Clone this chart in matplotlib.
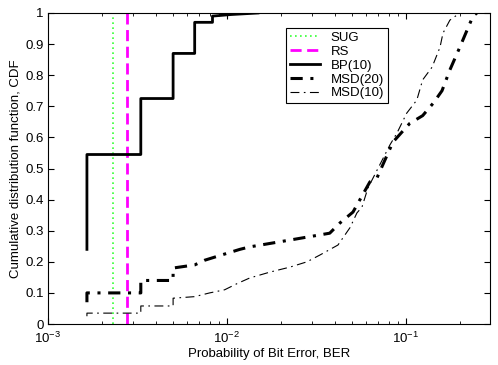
"""CDF of bit error probability: SUG / RS / BP(10) / MSD(20) / MSD(10)."""

import matplotlib
matplotlib.use('Agg')
import matplotlib.pyplot as plt
from matplotlib.ticker import FixedLocator, LogLocator, NullFormatter

plt.rcParams['font.family'] = ['Liberation Sans', 'DejaVu Sans']
plt.rcParams['mathtext.fontset'] = 'custom'
plt.rcParams['mathtext.rm'] = 'Liberation Sans'

# vertical reference lines (BER values)
SUG_BER = 2.3e-3
RS_BER = 2.76e-3

BP_BER = [1.65e-3, 1.65e-3, 3.3e-3, 3.3e-3, 5.0e-3, 5.0e-3, 6.6e-3, 6.6e-3,
          8.3e-3, 8.3e-3, 1.05e-2, 1.49e-2]
BP_CDF = [0.24, 0.545, 0.545, 0.725, 0.725, 0.87, 0.87, 0.97,
          0.97, 0.99, 0.995, 1.0]

MSD20_BER = [1.65e-3, 1.65e-3, 3.3e-3, 3.3e-3, 5.0e-3, 5.0e-3, 6.6e-3, 7.5e-3,
             9.1e-3, 1.18e-2, 1.34e-2, 2.25e-2, 3.75e-2, 4.28e-2, 5.06e-2,
             6.29e-2, 6.89e-2, 8.46e-2, 0.105, 0.124, 0.142, 0.159, 0.176,
             0.200, 0.237, 0.249]
MSD20_CDF = [0.07, 0.10, 0.10, 0.14, 0.14, 0.18, 0.19, 0.205,
             0.22, 0.24, 0.248, 0.27, 0.292, 0.325, 0.36,
             0.457, 0.47, 0.585, 0.645, 0.67, 0.71, 0.75, 0.817,
             0.89, 0.99, 1.0]

MSD10_BER = [1.65e-3, 1.65e-3, 3.3e-3, 3.3e-3, 5.0e-3, 5.0e-3, 6.6e-3, 8.0e-3,
             9.7e-3, 1.14e-2, 1.34e-2, 1.74e-2, 2.25e-2, 2.8e-2, 3.31e-2,
             4.17e-2, 4.87e-2, 5.32e-2, 5.68e-2, 6.13e-2, 8.14e-2, 8.91e-2,
             0.101, 0.115, 0.124, 0.140, 0.155, 0.161, 0.176, 0.200]
MSD10_CDF = [0.025, 0.035, 0.035, 0.058, 0.058, 0.083, 0.088, 0.10,
             0.11, 0.13, 0.148, 0.167, 0.183, 0.20, 0.222,
             0.254, 0.31, 0.357, 0.376, 0.437, 0.576, 0.614,
             0.678, 0.72, 0.785, 0.826, 0.89, 0.935, 0.977, 1.0]

Y_TICKS = [0, 0.1, 0.2, 0.3, 0.4, 0.5, 0.6, 0.7, 0.8, 0.9, 1]
Y_TICK_LABELS = ['0', '0.1', '0.2', '0.3', '0.4', '0.5', '0.6', '0.7', '0.8', '0.9', '1']

FS = 9.5

fig = plt.figure(figsize=(4.98, 3.65), dpi=100)
ax = fig.add_axes([0.0964, 0.1123, 0.8876, 0.8521])

ax.axvline(SUG_BER, color='#33ff33', ls=(0, (1, 2)), lw=1.2, label='SUG')
ax.axvline(RS_BER, color='#ff00ff', ls=(0, (4, 2)), lw=2.0, label='RS')
ax.plot(BP_BER, BP_CDF, color='k', lw=2.0, label='BP(10)')
ax.plot(MSD20_BER, MSD20_CDF, color='k', lw=2.2, ls=(0, (4, 2.5, 1, 2.5)), label='MSD(20)')
ax.plot(MSD10_BER, MSD10_CDF, color='k', lw=0.8, ls=(0, (8, 4, 1.5, 4)), label='MSD(10)')

ax.set_xscale('log')
ax.set_xlim(1e-3, 0.295)
ax.set_ylim(0, 1)
ax.yaxis.set_major_locator(FixedLocator(Y_TICKS))
ax.set_yticklabels(Y_TICK_LABELS)
ax.xaxis.set_major_locator(LogLocator(base=10, numticks=10))
ax.xaxis.set_minor_locator(LogLocator(base=10, subs=range(2, 10), numticks=20))
ax.xaxis.set_minor_formatter(NullFormatter())
ax.tick_params(which='both', direction='in', top=True, right=True, labelsize=FS)
ax.tick_params(axis='x', which='major', length=4, pad=5)
ax.tick_params(axis='y', which='major', length=4, pad=3)
ax.tick_params(which='minor', length=2)

ax.set_xlabel('Probability of Bit Error, BER', fontsize=FS, labelpad=1)
ax.set_ylabel('Cumulative distribution function, CDF', fontsize=FS, labelpad=3)

leg = ax.legend(loc='upper left', bbox_to_anchor=(0.538, 0.952), borderaxespad=0,
                fontsize=FS, frameon=True, fancybox=False, edgecolor='k', framealpha=1,
                handlelength=2.3, borderpad=0.3, labelspacing=0.12, handletextpad=0.8)
leg.get_frame().set_linewidth(0.8)

fig.savefig('out.png', dpi=100)
